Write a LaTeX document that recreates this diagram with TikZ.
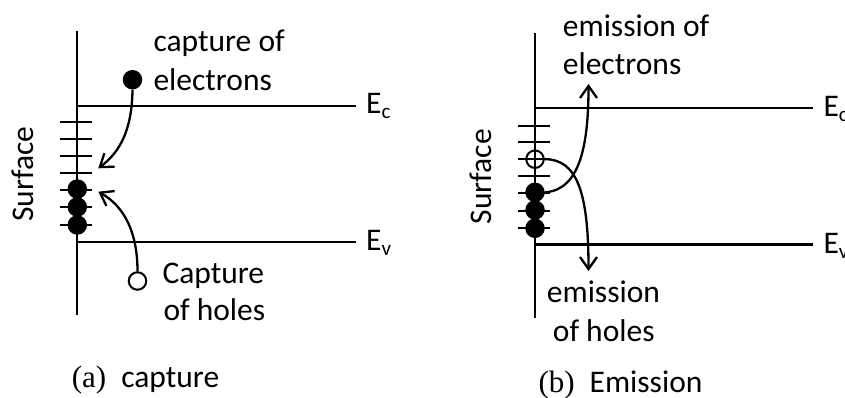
\documentclass[tikz,border=0pt]{standalone}
\usepackage{fontspec}
\setmainfont{Carlito}
\newfontfamily\seriffont{Liberation Serif}
\usetikzlibrary{arrows.meta}
\tikzset{
  ln/.style={line width=2.3pt},
  arr/.style={line width=2.3pt,-{Straight Barb[length=12pt,width=17pt,line width=2.3pt]}},
  edot/.style={circle,fill=black,minimum size=19.5pt,inner sep=0pt},
  hdot/.style={circle,draw=black,line width=2pt,minimum size=17.5pt,inner sep=0pt},
  lbl/.style={font=\fontsize{31.5}{37}\selectfont,inner sep=0pt,anchor=base west},
  sfc/.style={font=\fontsize{31.5}{37}\selectfont,inner sep=0pt,rotate=90,anchor=base},
  captlbl/.style={font=\fontsize{31.5}{37}\selectfont,inner sep=0pt,anchor=base west},
}
\newcommand{\subl}[1]{\raisebox{-5pt}{\fontsize{21}{21}\selectfont #1}}
\begin{document}
\begin{tikzpicture}[x=1pt,y=-1pt]
\useasboundingbox (0,0) rectangle (845,397);
\clip (0,0) rectangle (845,397);
% ---------------- panel (a) ----------------
\coordinate (aT) at (77.3,31);
\coordinate (aB) at (77.3,315);
\coordinate (aC0) at (77.3,105.7);
\coordinate (aC1) at (356,105.7);
\coordinate (aV0) at (77.3,242);
\coordinate (aV1) at (356,242);
\draw[ln] (aT) -- (aB);
\draw[ln] (aC0) -- (aC1);
\draw[ln] (aV0) -- (aV1);
\foreach \y [count=\i] in {122.3,139.3,156.3,173,190,207.3,224.7}{
  \coordinate (at\i l) at (60,\y);
  \coordinate (at\i r) at (92.3,\y);
  \draw[ln] (at\i l) -- (at\i r);
}
\node[edot] (af1) at (77.3,189) {};
\node[edot] (af2) at (77.3,207) {};
\node[edot] (af3) at (77.3,225) {};
\node[edot] (ae) at (132.5,79.7) {};
\node[hdot,fill=white] (ah) at (137.5,281) {};
\coordinate (aTip1) at (98.3,168.3);
\coordinate (aTip2) at (98.3,191.7);
\draw[arr] (ae.south) .. controls (132,130) and (120,152) .. (aTip1);
\draw[arr] (ah.north) .. controls (137.5,232) and (124,206) .. (aTip2);
\node[lbl] (acap1) at (153.3,51.7) {capture of};
\node[lbl] (acap2) at (153.3,90) {electrons};
\node[lbl] (ahol1) at (162.3,283.3) {Capture};
\node[lbl] (ahol2) at (163.3,320) {of holes};
\node[sfc] (asurf) at (33.3,174.2) {Surface};
\node[lbl] (aEc) at (366,113) {E\subl{c}};
\node[lbl] (aEv) at (366,250) {E\subl{v}};
\node[captlbl] (acapt) at (71.7,387.3) {{\seriffont\fontsize{31}{36}\selectfont (a)}\hspace{15pt}capture};
% ---------------- panel (b) ----------------
\coordinate (bT) at (535,33.3);
\coordinate (bB) at (535,318.3);
\coordinate (bC0) at (535,108.3);
\coordinate (bC1) at (813.3,108.3);
\coordinate (bV0) at (535,244.5);
\coordinate (bV1) at (813.3,244.5);
\draw[ln] (bT) -- (bB);
\draw[ln] (bC0) -- (bC1);
\draw[ln] (bV0) -- (bV1);
\foreach \y [count=\i] in {125.7,142.3,159,175.7,193.3,211,228.3}{
  \coordinate (bt\i l) at (518.3,\y);
  \coordinate (bt\i r) at (550,\y);
  \draw[ln] (bt\i l) -- (bt\i r);
}
\node[hdot] (bh) at (535,159.2) {};
\node[edot] (bf1) at (535,192.3) {};
\node[edot] (bf2) at (535,210) {};
\node[edot] (bf3) at (535,228.3) {};
\coordinate (bTip1) at (588.5,84);
\coordinate (bTip2) at (588.5,271);
\draw[arr] (bf1.east) .. controls (580,190) and (588.5,145) .. (bTip1);
\draw[arr] (bh.east) .. controls (578,159) and (588.5,195) .. (bTip2);
\node[lbl] (bem1) at (562.7,36) {emission of};
\node[lbl] (bem2) at (562.7,74) {electrons};
\node[lbl] (bho1) at (546.7,302.7) {emission};
\node[lbl] (bho2) at (552.7,341.7) {of holes};
\node[sfc] (bsurf) at (491.7,176.7) {Surface};
\node[lbl] (bEc) at (823.3,116.7) {E\subl{c}};
\node[lbl] (bEv) at (823.3,253.3) {E\subl{v}};
\node[captlbl] (bcapt) at (538.3,392) {{\seriffont\fontsize{31}{36}\selectfont (b)}\hspace{15pt}Emission};
\end{tikzpicture}
\end{document}
